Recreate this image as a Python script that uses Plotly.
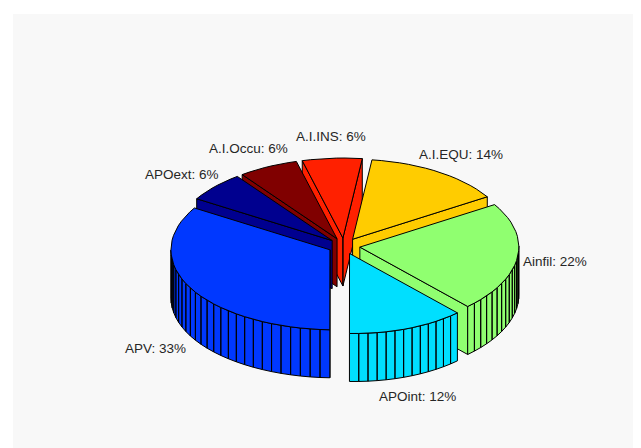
import math
import plotly.graph_objects as go

# slices run clockwise starting near 12 o'clock
labels = ['A.I.EQU', 'Ainfil', 'APOint', 'APV', 'APOext', 'A.I.Occu', 'A.I.INS']
values = [14, 22, 12, 33, 6, 6, 6]
colors = ['#FFCC00', '#90FF70', '#00DFFF', '#0038FF', '#00008F', '#800000', '#FF2000']

# back slices get painted first
draw_order = ['A.I.INS', 'A.I.EQU', 'A.I.Occu', 'APOext', 'APV', 'Ainfil', 'APOint']

# label anchors in page pixels
label_x = [419, 523, 379, 125, 145, 209, 296]
label_y = [154, 261, 396, 348, 174, 148, 136]

W, H = 641, 448
BODY = 8  # the browser's default body margin shifts the plot
CX, CY = 344, 246
RX, RY = 159, 80
EXPLODE = 16
DEPTH = 48
START = 7
LEAN = 4.2  # the near rim leans right a little, keeps the APV/APOint split upright


def project(r, a, mid, z=0):
    ar = math.radians(a)
    mr = math.radians(mid)
    lean = LEAN * max(0, -r * math.cos(ar)) ** 4
    return (CX + RX * (r * math.sin(ar)) + lean + EXPLODE * math.sin(mr),
            CY - RY * (r * math.cos(ar)) - EXPLODE * 0.5 * math.cos(mr) + z)


def add_poly(fig, polys, color):
    xs, ys = [], []
    for p in polys:
        p = p + [p[0]]
        xs += [q[0] for q in p] + [None]
        ys += [q[1] for q in p] + [None]
    fig.add_trace(go.Scatter(x=xs, y=ys, mode='lines', fill='toself', fillcolor=color,
                             line=dict(color='#000000', width=1), hoverinfo='skip',
                             showlegend=False))


total = sum(values)
slices = {}
angle = START
for name, v, c in zip(labels, values, colors):
    sweep = 360 * v / total
    slices[name] = (angle, angle + sweep, c, math.ceil(100 * v / total))
    angle += sweep

fig = go.Figure()
for name in draw_order:
    a0, a1, color, n = slices[name]
    mid = (a0 + a1) / 2
    steps = [a0 + (a1 - a0) * i / n for i in range(n + 1)]

    # radial walls, only the ones facing the viewer
    walls = []
    for a, normal in ((a0, a0 - 90), (a1, a1 + 90)):
        if math.cos(math.radians(normal)) < 0:
            walls.append([project(0, a, mid), project(1, a, mid),
                          project(1, a, mid, DEPTH), project(0, a, mid, DEPTH)])
    if walls:
        add_poly(fig, walls, color)

    # outer wall facets on the front half
    facets = []
    for s0, s1 in zip(steps[:-1], steps[1:]):
        if math.cos(math.radians((s0 + s1) / 2)) < 0:
            facets.append([project(1, s0, mid), project(1, s1, mid),
                           project(1, s1, mid, DEPTH), project(1, s0, mid, DEPTH)])
    if facets:
        add_poly(fig, facets, color)

    # top face
    add_poly(fig, [[project(0, a0, mid)] + [project(1, s, mid) for s in steps]], color)

for name, v, lx, ly in zip(labels, values, label_x, label_y):
    fig.add_annotation(x=lx, y=ly, text=f'{name}: {v}%', showarrow=False, xanchor='left',
                       yanchor='middle', xshift=-2,
                       font=dict(family='Liberation Sans', size=13.5, color='#262626'))

fig.update_layout(
    width=W - BODY, height=H - BODY,
    margin=dict(l=13 - BODY, r=4, t=14 - BODY, b=0),
    paper_bgcolor='#ffffff',
    plot_bgcolor='#f8f8f8',
)
fig.update_xaxes(range=[13, W - 4], visible=False, fixedrange=True)
fig.update_yaxes(range=[H, 14], visible=False, fixedrange=True)

fig.write_html('out.html')
